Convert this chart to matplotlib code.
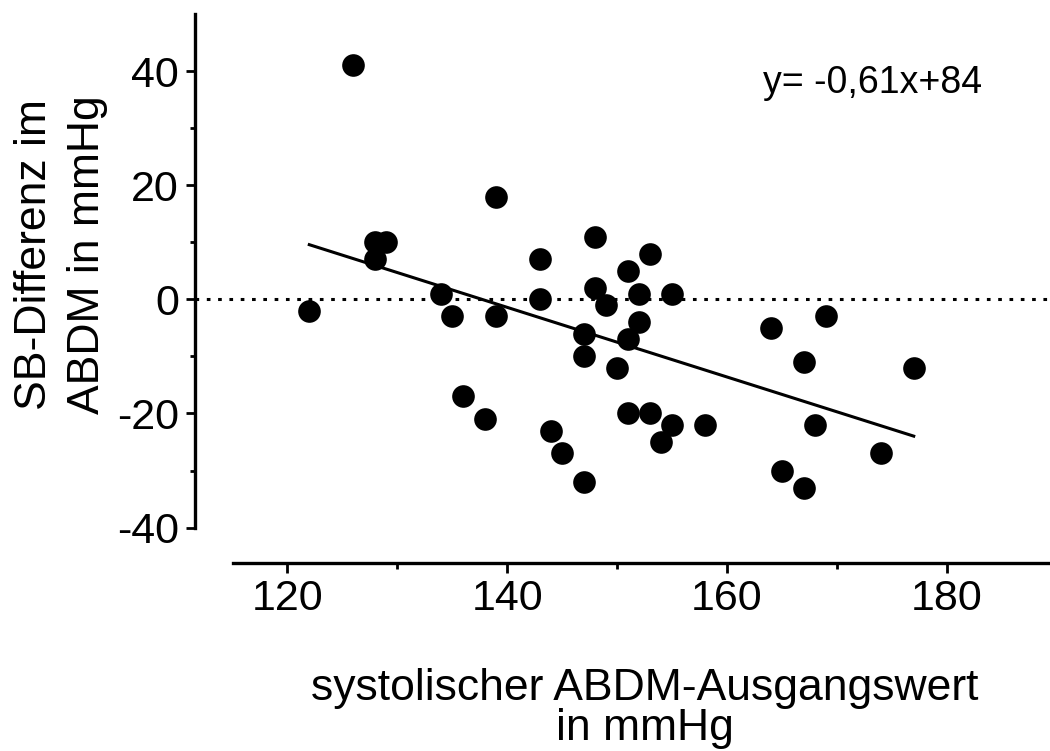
import numpy as np
import matplotlib
matplotlib.use("Agg")
import matplotlib.pyplot as plt
from matplotlib.ticker import FixedLocator

plt.rcParams['font.family'] = ['Liberation Sans', 'DejaVu Sans']
plt.rcParams['axes.unicode_minus'] = False

# systolic ABDM baseline (mmHg) and SB difference (mmHg)
baseline = [122, 126, 128, 129, 128, 134, 135, 136, 138, 139, 139,
            143, 143, 144, 145, 147, 147, 147, 148, 148, 149, 150,
            151, 151, 151, 152, 152, 153, 153, 154, 155, 155, 158,
            164, 165, 167, 167, 168, 169, 174, 177]
difference = [-2, 41, 10, 10, 7, 1, -3, -17, -21, 18, -3,
              7, 0, -23, -27, -6, -10, -32, 11, 2, -1, -12,
              5, -7, -20, 1, -4, 8, -20, -25, 1, -22, -22,
              -5, -30, -11, -33, -22, -3, -27, -12]

slope = -0.61
intercept = 84
equation = "y= -0,61x+84"

x_ticks = [120, 140, 160, 180]
x_minor = [130, 150, 170]
y_ticks = [-40, -20, 0, 20, 40]
y_minor = [-30, -10, 10, 30]

fig = plt.figure(figsize=(10.5, 7.51), dpi=100)
ax = fig.add_axes([195 / 1050, 1 - 563 / 751, 1 - 195 / 1050, (563 - 14) / 751])

x = np.array(baseline)
y = np.array(difference)

# zero line
ax.axhline(0, color='black', lw=2.2, linestyle=(0, (1.2, 2.5)), zorder=1)

# regression line over the data range
xs = np.array([x.min(), x.max()])
ax.plot(xs, slope * xs + intercept, color='black', lw=2.2, zorder=2)

ax.plot(x, y, 'o', color='black', markersize=16.3, markeredgewidth=0, zorder=3)

ax.set_xlim(111.6, 189.4)
ax.set_ylim(-46.2, 50)

ax.spines['top'].set_visible(False)
ax.spines['right'].set_visible(False)
ax.spines['left'].set_bounds(-40, 50)
ax.spines['bottom'].set_bounds(115.1, 189.4)
for s in ('left', 'bottom'):
    ax.spines[s].set_linewidth(2.4)

ax.set_xticks(x_ticks)
ax.set_yticks(y_ticks)
ax.xaxis.set_minor_locator(FixedLocator(x_minor))
ax.yaxis.set_minor_locator(FixedLocator(y_minor))
ax.tick_params(axis='x', which='major', length=7.2, width=2, labelsize=31, pad=4)
ax.tick_params(axis='x', which='minor', length=4.3, width=2)
ax.tick_params(axis='y', which='major', length=6.5, width=2, labelsize=31, pad=5)
ax.tick_params(axis='y', which='minor', length=3.6, width=2)

fig.text(763 / 1050, 1 - 93 / 751, equation, fontsize=27, ha='left', va='baseline')

fig.text(645 / 1050, 1 - 700 / 751, "systolischer ABDM-Ausgangswert",
         fontsize=32, ha='center', va='baseline')
fig.text(645 / 1050, 1 - 740 / 751, "in mmHg", fontsize=32, ha='center', va='baseline')

fig.text(35 / 1050, 1 - 255 / 751, "SB-Differenz im", fontsize=32, rotation=90,
         ha='center', va='center')
fig.text(88 / 1050, 1 - 255 / 751, "ABDM in mmHg", fontsize=32, rotation=90,
         ha='center', va='center')

fig.savefig("out.png", dpi=100)
